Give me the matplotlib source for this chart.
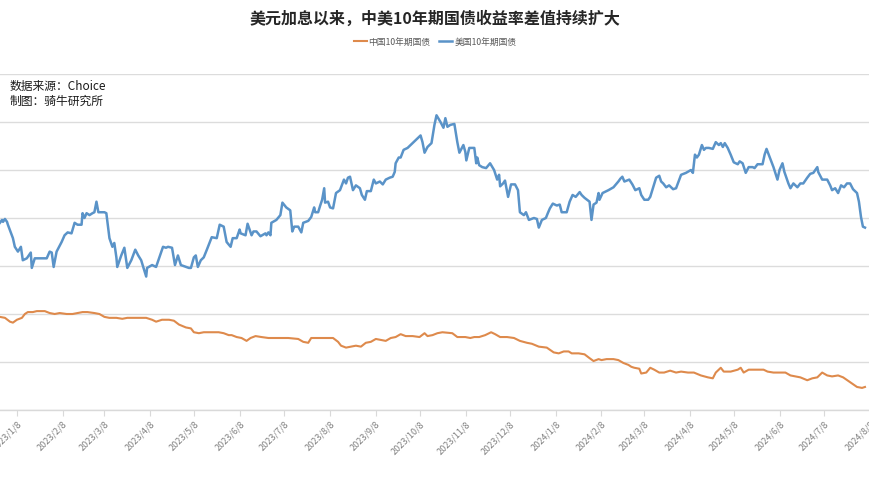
import numpy as np
import pandas as pd
import matplotlib
matplotlib.use("Agg")
import matplotlib.pyplot as plt

plt.rcParams['font.family'] = ['Noto Sans CJK SC', 'DejaVu Sans']

TITLE = "美元加息以来，中美10年期国债收益率差值持续扩大"
LABELS = ["中国10年期国债", "美国10年期国债"]
SOURCE = ["数据来源：Choice", "制图：骑牛研究所"]

# days after 2023-01-01, yield (%)
us_days = [-4.5, -3.1, -2.4, -1.1, 0.3, 0.9, 3.6, 4.3, 5.6, 7.7,
           9.7, 11.0, 13.7, 16.4, 17.1, 19.1, 27.2, 29.2, 30.6, 31.9,
           33.9, 37.3, 39.3, 41.4, 44.0, 46.1, 48.1, 50.8, 51.5, 52.8,
           54.2, 56.2, 58.2, 59.5, 60.9, 62.2, 66.3, 67.6, 69.7, 71.7,
           73.0, 74.4, 75.0, 77.7, 79.8, 81.8, 84.5, 87.2, 89.2, 91.2,
           94.6, 95.2, 98.6, 101.3, 103.3, 106.0, 108.0, 109.4, 112.1, 114.1,
           116.1, 118.1, 123.5, 124.9, 126.9, 128.2, 129.6, 131.6, 133.6, 135.7,
           139.0, 142.4, 144.4, 147.1, 149.1, 151.8, 153.2, 155.9, 157.9, 158.6,
           161.9, 163.3, 166.0, 167.3, 169.3, 172.0, 175.4, 176.1, 177.4, 178.8,
           179.4, 182.8, 185.5, 186.9, 189.5, 192.2, 193.6, 194.9, 197.6, 199.7,
           201.0, 204.4, 206.4, 208.4, 209.1, 211.1, 212.5, 213.8, 215.2, 215.8,
           217.8, 219.2, 221.2, 223.2, 225.9, 228.6, 230.0, 231.3, 232.7, 234.7,
           236.7, 239.4, 240.7, 242.8, 244.1, 246.8, 248.8, 250.2, 252.9, 254.9,
           256.9, 259.6, 261.6, 263.0, 263.6, 265.7, 267.0, 269.0, 271.7, 275.1,
           278.5, 280.5, 281.8, 283.2, 285.2, 287.9, 289.9, 291.3, 294.0, 296.0,
           297.3, 298.7, 300.7, 303.4, 305.4, 306.8, 309.5, 310.8, 311.5, 313.5,
           316.9, 318.2, 318.9, 320.2, 322.3, 324.9, 327.6, 330.3, 332.4, 333.7,
           334.4, 336.4, 337.7, 339.8, 341.8, 344.5, 346.5, 347.8, 350.5, 351.9,
           353.9, 357.3, 359.3, 360.6, 362.7, 365.4, 366.7, 368.1, 370.1, 372.8,
           374.8, 376.1, 379.5, 381.5, 383.5, 385.6, 388.3, 389.6, 391.6, 395.0,
           396.3, 397.7, 399.7, 401.1, 401.7, 403.8, 407.8, 411.2, 414.5, 415.9,
           417.2, 418.6, 421.9, 424.0, 426.0, 428.7, 430.0, 432.1, 434.7, 436.1,
           438.1, 440.1, 442.2, 443.5, 444.9, 446.9, 448.9, 451.6, 453.6, 457.0,
           460.3, 463.7, 465.0, 466.4, 467.7, 469.1, 471.1, 472.5, 473.8, 475.8,
           478.5, 480.5, 482.6, 483.9, 485.3, 486.6, 488.6, 490.6, 492.7, 495.4,
           496.7, 498.7, 500.8, 502.8, 505.5, 506.8, 508.8, 512.2, 513.6, 514.9,
           517.6, 519.6, 522.3, 523.7, 525.7, 527.0, 529.7, 531.1, 533.1, 535.8,
           537.8, 539.8, 542.5, 544.5, 546.6, 549.3, 549.9, 552.6, 556.0, 558.0,
           559.3, 561.4, 563.4, 565.4, 567.4, 569.4, 571.5, 573.5, 576.2, 577.5,
           578.9, 580.2, 581.6]
us_yield = [3.85, 3.88, 3.86, 3.89, 3.86, 3.83, 3.72, 3.69, 3.60, 3.55,
            3.60, 3.46, 3.48, 3.54, 3.38, 3.48, 3.48, 3.55, 3.54, 3.39,
            3.55, 3.65, 3.72, 3.75, 3.74, 3.85, 3.83, 3.83, 3.95, 3.90,
            3.95, 3.93, 3.95, 3.96, 4.07, 3.96, 3.96, 3.95, 3.69, 3.60,
            3.64, 3.49, 3.39, 3.51, 3.59, 3.38, 3.46, 3.57, 3.51, 3.46,
            3.29, 3.38, 3.41, 3.39, 3.48, 3.60, 3.59, 3.60, 3.59, 3.41,
            3.51, 3.41, 3.38, 3.38, 3.49, 3.51, 3.39, 3.46, 3.49, 3.57,
            3.70, 3.69, 3.83, 3.81, 3.65, 3.60, 3.69, 3.69, 3.78, 3.74,
            3.72, 3.84, 3.72, 3.76, 3.76, 3.71, 3.74, 3.72, 3.75, 3.72,
            3.85, 3.88, 3.93, 4.06, 4.01, 3.98, 3.76, 3.81, 3.81, 3.75,
            3.85, 3.87, 3.91, 4.01, 3.96, 3.96, 4.03, 4.09, 4.21, 4.06,
            4.07, 4.01, 4.00, 4.16, 4.19, 4.30, 4.26, 4.32, 4.33, 4.19,
            4.24, 4.21, 4.14, 4.09, 4.18, 4.18, 4.30, 4.26, 4.28, 4.25,
            4.30, 4.32, 4.33, 4.38, 4.47, 4.53, 4.53, 4.61, 4.63, 4.68,
            4.73, 4.76, 4.69, 4.58, 4.64, 4.68, 4.87, 4.97, 4.90, 4.84,
            4.94, 4.85, 4.87, 4.88, 4.69, 4.58, 4.66, 4.59, 4.50, 4.63,
            4.63, 4.47, 4.53, 4.45, 4.43, 4.42, 4.47, 4.40, 4.30, 4.35,
            4.23, 4.26, 4.29, 4.12, 4.25, 4.25, 4.19, 3.96, 3.93, 3.96,
            3.88, 3.90, 3.89, 3.80, 3.88, 3.90, 3.95, 4.00, 4.05, 4.03,
            4.04, 3.96, 3.96, 4.07, 4.14, 4.12, 4.17, 4.14, 4.11, 4.07,
            3.88, 4.04, 4.06, 4.16, 4.09, 4.16, 4.19, 4.22, 4.28, 4.31,
            4.33, 4.28, 4.30, 4.25, 4.19, 4.21, 4.14, 4.09, 4.09, 4.12,
            4.22, 4.32, 4.34, 4.28, 4.26, 4.22, 4.24, 4.20, 4.21, 4.35,
            4.37, 4.40, 4.37, 4.56, 4.53, 4.56, 4.66, 4.61, 4.63, 4.63,
            4.62, 4.69, 4.66, 4.68, 4.64, 4.68, 4.63, 4.56, 4.48, 4.46,
            4.49, 4.47, 4.37, 4.43, 4.43, 4.42, 4.46, 4.46, 4.56, 4.62,
            4.51, 4.43, 4.30, 4.40, 4.47, 4.38, 4.26, 4.21, 4.26, 4.22,
            4.26, 4.26, 4.32, 4.36, 4.37, 4.43, 4.38, 4.30, 4.30, 4.24,
            4.19, 4.21, 4.16, 4.24, 4.22, 4.26, 4.26, 4.20, 4.16, 4.07,
            3.91, 3.81, 3.80]

cn_days = [-4.5, -1.1, 2.3, 4.3, 7.0, 10.4, 12.4, 14.4, 17.8, 20.5,
           25.9, 29.2, 32.6, 36.0, 40.7, 44.7, 48.1, 51.5, 54.8, 59.5,
           62.9, 66.3, 69.6, 74.4, 78.4, 81.8, 85.1, 89.9, 94.6, 98.6,
           101.3, 105.3, 110.1, 113.4, 116.8, 121.5, 124.9, 126.9, 130.3, 133.6,
           139.0, 143.7, 147.1, 150.5, 152.5, 155.9, 159.2, 162.6, 165.3, 168.7,
           172.7, 177.4, 184.2, 190.9, 197.6, 201.0, 204.4, 206.4, 211.1, 216.5,
           221.2, 224.6, 226.6, 230.0, 233.3, 236.7, 240.1, 243.4, 246.8, 250.2,
           253.5, 256.9, 260.3, 263.6, 267.0, 270.4, 275.1, 279.8, 283.2, 285.2,
           288.6, 291.9, 295.3, 302.0, 305.4, 310.8, 314.2, 316.9, 320.2, 324.3,
           328.3, 331.0, 334.4, 339.1, 343.8, 347.8, 352.6, 355.9, 360.6, 366.0,
           370.7, 374.1, 377.5, 380.8, 382.9, 387.6, 391.6, 395.0, 397.7, 401.1,
           403.1, 406.5, 411.2, 414.5, 417.9, 421.3, 423.3, 425.3, 428.7, 430.0,
           433.4, 436.1, 438.8, 442.2, 445.5, 449.6, 453.6, 457.0, 461.7, 465.7,
           470.4, 475.2, 478.5, 480.5, 483.9, 485.9, 490.6, 495.4, 497.4, 499.4,
           502.8, 507.5, 512.9, 515.6, 519.6, 524.3, 527.7, 531.1, 534.4, 537.8,
           542.5, 545.9, 549.3, 552.6, 556.0, 559.3, 563.4, 566.8, 571.5, 576.2,
           579.6, 581.6]
cn_yield = [2.87, 2.86, 2.82, 2.81, 2.84, 2.86, 2.90, 2.92, 2.92, 2.93,
            2.93, 2.91, 2.90, 2.91, 2.90, 2.90, 2.91, 2.92, 2.92, 2.91,
            2.90, 2.87, 2.86, 2.86, 2.85, 2.86, 2.86, 2.86, 2.86, 2.84,
            2.82, 2.84, 2.84, 2.83, 2.79, 2.76, 2.75, 2.71, 2.70, 2.71,
            2.71, 2.71, 2.70, 2.68, 2.68, 2.66, 2.65, 2.62, 2.65, 2.67,
            2.66, 2.65, 2.65, 2.65, 2.64, 2.61, 2.60, 2.65, 2.65, 2.65,
            2.65, 2.61, 2.57, 2.55, 2.56, 2.57, 2.56, 2.60, 2.61, 2.64,
            2.63, 2.62, 2.65, 2.66, 2.69, 2.67, 2.67, 2.66, 2.70, 2.67,
            2.68, 2.70, 2.71, 2.70, 2.66, 2.66, 2.65, 2.66, 2.66, 2.68,
            2.71, 2.69, 2.66, 2.66, 2.65, 2.62, 2.60, 2.59, 2.56, 2.55,
            2.50, 2.49, 2.51, 2.51, 2.49, 2.49, 2.48, 2.44, 2.41, 2.43,
            2.42, 2.43, 2.43, 2.42, 2.39, 2.37, 2.35, 2.34, 2.33, 2.28,
            2.29, 2.34, 2.32, 2.29, 2.29, 2.31, 2.29, 2.30, 2.29, 2.29,
            2.26, 2.24, 2.23, 2.29, 2.34, 2.30, 2.30, 2.32, 2.34, 2.29,
            2.32, 2.32, 2.32, 2.30, 2.29, 2.29, 2.29, 2.26, 2.25, 2.24,
            2.21, 2.23, 2.24, 2.29, 2.26, 2.25, 2.26, 2.24, 2.19, 2.14,
            2.13, 2.14]

base = pd.Timestamp("2023-01-01")
us_dates = base + pd.to_timedelta(us_days, unit="D")
cn_dates = base + pd.to_timedelta(cn_days, unit="D")
tick_dates = pd.date_range("2023-01-01", "2024-08-01", freq="MS") + pd.Timedelta(days=7)

fig = plt.figure(figsize=(8.7, 4.92), dpi=100)
ax = fig.add_axes([0.0, 82 / 492, 1.0, 336 / 492])

ax.plot(cn_dates, cn_yield, color="#de8a4c", linewidth=1.5, label=LABELS[0], zorder=3)
ax.plot(us_dates, us_yield, color="#5a93c8", linewidth=1.8, label=LABELS[1], zorder=3)

ax.set_xlim(base + pd.Timedelta(days=-4.45), base + pd.Timedelta(days=581.6))
ax.set_ylim(1.9, 5.4)
ax.set_yticks(np.arange(1.9, 5.41, 0.5))
ax.yaxis.grid(True, color="#dcdcdc", linewidth=1.0)
ax.set_axisbelow(True)
ax.tick_params(axis="y", length=0, labelleft=False)
for side in ["left", "right", "top"]:
    ax.spines[side].set_visible(False)
ax.spines["bottom"].set_color("#d9d9d9")
ax.spines["bottom"].set_linewidth(1.0)

ax.set_xticks(tick_dates)
ax.set_xticklabels([f"{d.year}/{d.month}/{d.day}" for d in tick_dates],
                   rotation=45, ha="right", va="top", rotation_mode="anchor",
                   fontsize=6.5, color="#808080")
ax.tick_params(axis="x", length=4, color="#d9d9d9", pad=3)

fig.text(0.5, 1 - 19 / 492, TITLE, ha="center", va="center",
         fontsize=11.5, fontweight="bold", color="#262626")
fig.legend(loc="center", bbox_to_anchor=(0.5, 1 - 42 / 492), ncol=2, frameon=False,
           fontsize=6.3, handlelength=1.5, handletextpad=0.2, columnspacing=1.0,
           labelcolor="#595959")
fig.text(10 / 870, 1 - 86 / 492, SOURCE[0], ha="left", va="center", fontsize=8.5, color="#1a1a1a")
fig.text(10 / 870, 1 - 101 / 492, SOURCE[1], ha="left", va="center", fontsize=8.5, color="#1a1a1a")

fig.savefig("out.png", dpi=100)
